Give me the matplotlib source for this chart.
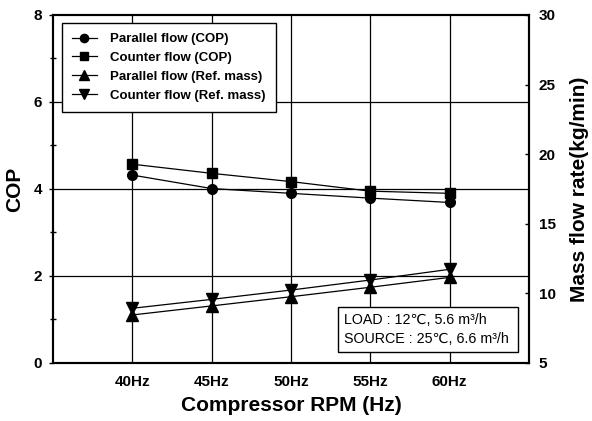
import matplotlib
matplotlib.use("Agg")
import matplotlib.pyplot as plt
from matplotlib.ticker import MultipleLocator

plt.rcParams['font.family'] = ['Liberation Sans', 'DejaVu Sans']

freq = [40, 45, 50, 55, 60]
freq_labels = ['40Hz', '45Hz', '50Hz', '55Hz', '60Hz']
cop_parallel = [4.32, 4.01, 3.90, 3.79, 3.69]
cop_counter = [4.57, 4.36, 4.17, 3.95, 3.90]
mass_parallel = [8.45, 9.10, 9.76, 10.44, 11.15]
mass_counter = [8.93, 9.57, 10.24, 10.96, 11.73]

fig = plt.figure(figsize=(5.92, 4.21), dpi=100)
ax = fig.add_axes([0.0895, 0.1378, 0.8041, 0.8266])
ax2 = ax.twinx()

ax.set_xlim(35, 65)
ax.set_ylim(0, 8)
ax2.set_ylim(5, 30)
ax.set_xticks(freq)
ax.set_xticklabels(freq_labels, fontweight='bold', fontsize=11)
ax.set_yticks([0, 2, 4, 6, 8])
ax.yaxis.set_minor_locator(MultipleLocator(1))
ax2.set_yticks([5, 10, 15, 20, 25, 30])
for lab in ax.get_yticklabels():
    lab.set_fontweight('bold'); lab.set_fontsize(11)
for lab in ax2.get_yticklabels():
    lab.set_fontweight('bold'); lab.set_fontsize(11)

ax.tick_params(axis='x', length=0, pad=9)
ax.tick_params(axis='y', which='major', direction='out', length=3, width=1, pad=5)
ax.tick_params(axis='y', which='minor', direction='inout', length=4, width=1)
ax2.tick_params(axis='y', direction='in', length=3, width=1, pad=7)

for x in freq:
    ax.axvline(x, color='black', lw=0.9, zorder=1)
for y in [2, 4, 6]:
    ax.axhline(y, color='black', lw=0.9, zorder=1)

for sp in list(ax.spines.values()) + list(ax2.spines.values()):
    sp.set_linewidth(1.5)

l1, = ax.plot(freq, cop_parallel, '-o', color='black', lw=0.9, ms=7, label='Parallel flow (COP)', zorder=3)
l2, = ax.plot(freq, cop_counter, '-s', color='black', lw=0.9, ms=7, label='Counter flow (COP)', zorder=3)
l3, = ax2.plot(freq, mass_parallel, '-^', color='black', lw=0.9, ms=8, label='Parallel flow (Ref. mass)', zorder=3)
l4, = ax2.plot(freq, mass_counter, '-v', color='black', lw=0.9, ms=8, label='Counter flow (Ref. mass)', zorder=3)

ax.set_xlabel('Compressor RPM (Hz)', fontsize=15, fontweight='bold', labelpad=5)
ax.set_ylabel('COP', fontsize=15, fontweight='bold', labelpad=7)
ax2.set_ylabel('Mass flow rate(kg/min)', fontsize=15, fontweight='bold', labelpad=10)

leg = ax2.legend(handles=[l1, l2, l3, l4], loc='upper left', bbox_to_anchor=(0.019, 0.977),
                 prop={'weight': 'bold', 'size': 9.5}, fancybox=False, edgecolor='black',
                 framealpha=1, handlelength=1.9, borderpad=0.75, labelspacing=0.5,
                 handletextpad=1.0, markerscale=0.85, borderaxespad=0)
leg.get_frame().set_linewidth(1.0)

ax2.text(0.611, 0.049, 'LOAD : 12℃, 5.6 m³/h\nSOURCE : 25℃, 6.6 m³/h ',
         transform=ax.transAxes, fontsize=10.3, ha='left', va='bottom', linespacing=1.45,
         bbox=dict(boxstyle='square,pad=0.4', facecolor='white', edgecolor='black', lw=1.0),
         zorder=5)

fig.savefig('out.png', dpi=100)
